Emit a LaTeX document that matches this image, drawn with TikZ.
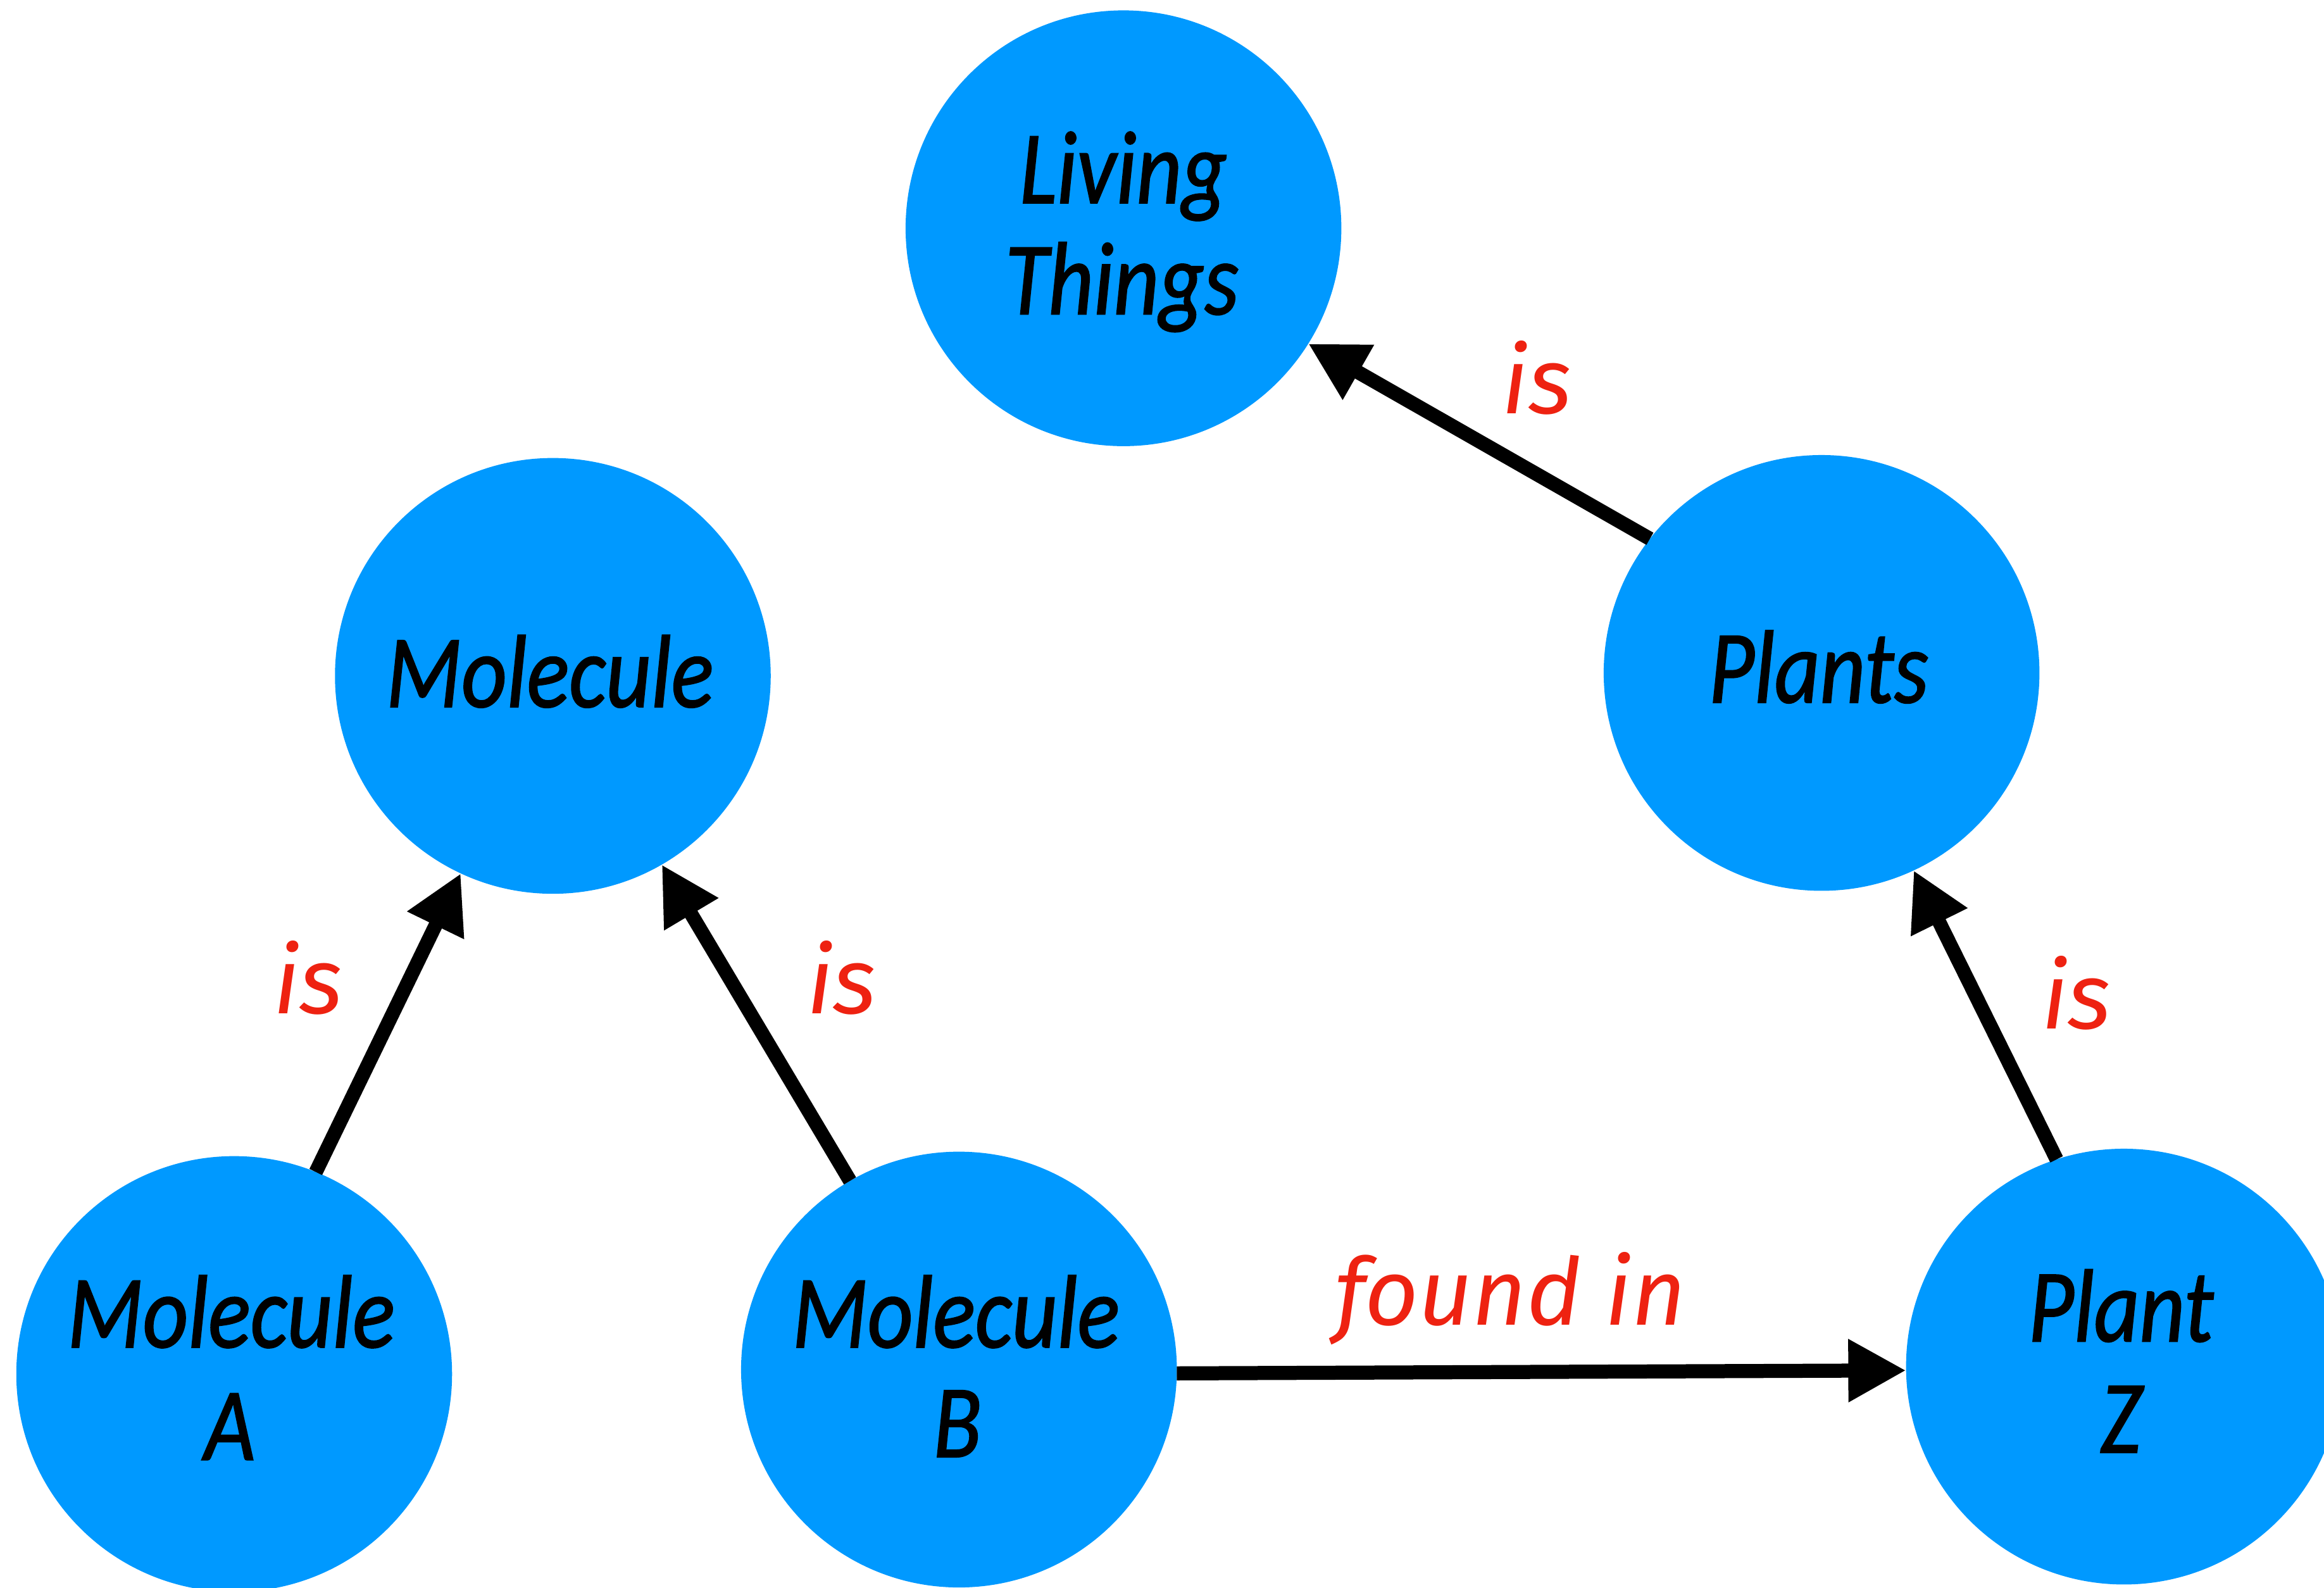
\documentclass[tikz,border=0pt]{standalone}
\usepackage{fontspec}
\usetikzlibrary{arrows.meta}
\newfontfamily\nodefont{Carlito}[FakeStretch=0.85,FakeBold=1.2]
\newfontfamily\labfont{Fira Sans}
\definecolor{nodeblue}{HTML}{0099FF}
\definecolor{labred}{HTML}{EE2211}
\begin{document}
\begin{tikzpicture}[x=1pt,y=-1pt,
  concept/.style={circle, fill=nodeblue, minimum size=294pt, inner sep=0pt, outer sep=0pt},
  ctext/.style={anchor=base, inner sep=0pt, font=\nodefont\itshape\fontsize{70}{75}\selectfont},
  ltext/.style={anchor=base, inner sep=0pt, text=labred, font=\labfont\itshape\fontsize{63}{70}\selectfont},
  link/.style={line width=9.5pt, -{Triangle[length=39pt,width=40pt]}}]
\clip (0,0) rectangle (1568,1071);

\node[concept] (liv) at (758,154) {};
\node[concept] (mol) at (373,456) {};
\node[concept] (pls) at (1229,454) {};
\node[concept] (ma) at (158,927) {};
\node[concept] (mb) at (647,924) {};
\node[concept] (pz) at (1433,922) {};

\node[ctext] (liv1) at (758,137) {Living};
\node[ctext] (liv2) at (757,212) {Things};
\node[ctext] (mol1) at (371,477) {Molecule};
\node[ctext] (pls1) at (1227,474) {Plants};
\node[ctext] (ma1) at (156,909) {Molecule};
\node[ctext] (ma2) at (155,985) {A};
\node[ctext] (mb1) at (645,909) {Molecule};
\node[ctext] (mb2) at (646,983) {B};
\node[ctext] (pz1) at (1431,905) {Plant};
\node[ctext] (pz2) at (1431,980) {Z};

\draw[link] (ma.68) -- (mol.245);
\draw[link] (mb.120) -- (mol.300);
\draw[link] (pz.108.6) -- (pls.295.9);
\draw[link] (pls.142.8) -- (liv.328.2);
\draw[link] (mb.-1.5) -- (pz.181.9);

\node[ltext] (is1) at (208,684) {is};
\node[ltext] (is2) at (568,684) {is};
\node[ltext] (is3) at (1401,694) {is};
\node[ltext] (is4) at (1037,279) {is};
\node[ltext] (fnd) at (1019,894) {found in};
\end{tikzpicture}
\end{document}
